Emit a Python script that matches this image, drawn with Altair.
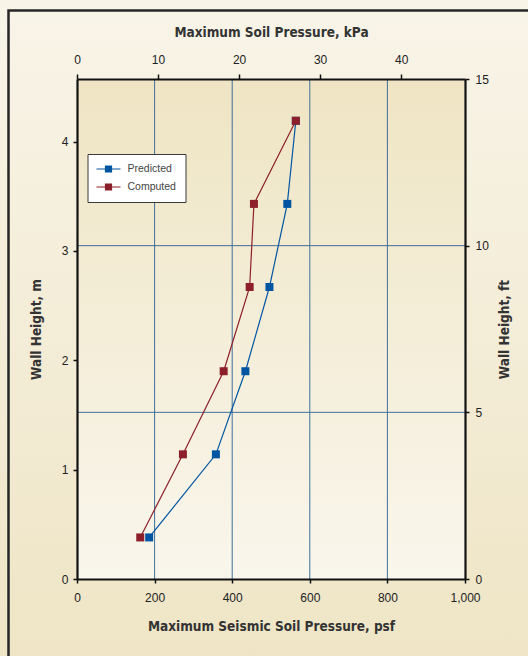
import altair as alt
import pandas as pd

# Wall heights of the readings (m)
heights_m = [0.38, 1.14, 1.90, 2.67, 3.43, 4.19]
# Maximum seismic soil pressure at each height (psf)
predicted_psf = [186, 358, 434, 496, 542, 564]
computed_psf = [163, 273, 378, 445, 456, 564]
series_names = ["Predicted", "Computed"]
series_colors = ["#0055a2", "#8c1f2a"]

# Axis ticks and grid positions
psf_ticks = [0, 200, 400, 600, 800, 1000]
psf_grid = [200, 400, 600, 800]
m_ticks = [0, 1, 2, 3, 4]
kpa_ticks = [0, 10, 20, 30, 40]
ft_ticks = [0, 5, 10, 15]
ft_grid = [5, 10]

psf_domain = [0, 1000]
kpa_domain = [0, 47.88]   # same span as 1,000 psf
m_domain = [0, 4.572]     # same span as 15 ft
ft_domain = [0, 15]

W, H = 388, 500
PAD = {"left": 77, "top": 79, "right": 63, "bottom": 77}

TITLE_FONT = "'DejaVu Sans Condensed', 'Arial Narrow', sans-serif"
LABEL_FONT = "'Liberation Sans', Arial, Helvetica, sans-serif"
GRID = "#3f6f9a"
INK = "#111111"

series_frames = [
    pd.DataFrame({"series": name, "psf": vals, "m": heights_m})
    for name, vals in zip(series_names, [predicted_psf, computed_psf])
]
pts = pd.concat(series_frames, ignore_index=True)


def axis(orient, values, title, tick_size, label_pad, title_pad, **extra):
    return alt.Axis(
        orient=orient, values=values, title=title, grid=False, zindex=1,
        tickCount=len(values), domainColor=INK, domainWidth=2.2, tickColor=INK,
        tickWidth=1.5, tickSize=tick_size, labelFont=LABEL_FONT, labelFontSize=12,
        labelColor="#222222", labelPadding=label_pad, labelFlush=False,
        labelOverlap=False, titleFont=TITLE_FONT, titleFontSize=13.5,
        titleFontWeight="bold", titleColor="#333333", titlePadding=title_pad,
        **extra,
    )


def vgrad(top, bottom):
    return alt.LinearGradient(
        gradient="linear", x1=0, x2=0, y1=0, y2=1,
        stops=[alt.GradientStop(offset=0, color=top),
               alt.GradientStop(offset=1, color=bottom)],
    )


def lin(domain):
    return alt.Scale(domain=domain, nice=False, zero=False)


one = alt.Data(values=[{}])

# page background and outer frame
page_bg = alt.Chart(one).mark_rect(fill=vgrad("#f8f4e8", "#efe5c6")).encode(
    x=alt.value(-PAD["left"]), x2=alt.value(W + PAD["right"]),
    y=alt.value(-PAD["top"]), y2=alt.value(H + PAD["bottom"]),
)
frame = alt.Chart(one).mark_rect(fill="transparent", stroke="#262626", strokeWidth=2.5).encode(
    x=alt.value(-68.5), x2=alt.value(W + 200),
    y=alt.value(-68.5), y2=alt.value(H + 200),
)
plot_bg = alt.Chart(one).mark_rect(fill=vgrad("#efe5c4", "#f9f6ec")).encode(
    x=alt.value(0), x2=alt.value(W), y=alt.value(0), y2=alt.value(H),
)

color_scale = alt.Scale(domain=series_names, range=series_colors)

# vertical grid at psf steps, horizontal grid at ft steps
psf_rules = alt.Chart(pd.DataFrame({"psf": psf_grid})).mark_rule(
    color=GRID, strokeWidth=1
).encode(x=alt.X("psf:Q", scale=lin(psf_domain), axis=None))

ft_rules = alt.Chart(pd.DataFrame({"ft": ft_grid})).mark_rule(
    color=GRID, strokeWidth=1
).encode(
    y=alt.Y("ft:Q", scale=lin(ft_domain),
            axis=axis("right", ft_ticks, "Wall Height, ft", 4, 6, 9,
                      titleAngle=270, titleBaseline="top")),
    x=alt.value(0), x2=alt.value(W),
)

kpa_axis = alt.Chart(pd.DataFrame({"kpa": kpa_ticks})).mark_rule(opacity=0).encode(
    x=alt.X("kpa:Q", scale=lin(kpa_domain),
            axis=axis("top", kpa_ticks, "Maximum Soil Pressure, kPa", 5, 8, 14)),
)

# one connecting line per series; the first one carries the psf / m axes
line_layers = []
for i, (df, col) in enumerate(zip(series_frames, series_colors)):
    if i == 0:
        x_axis = axis("bottom", psf_ticks, "Maximum Seismic Soil Pressure, psf", 4, 9, 16)
        y_axis = axis("left", m_ticks, "Wall Height, m", 4, 5, 18)
    else:
        x_axis = None
        y_axis = None
    line_layers.append(
        alt.Chart(df).mark_line(strokeWidth=1.2, color=col).encode(
            x=alt.X("psf:Q", scale=lin(psf_domain), axis=x_axis),
            y=alt.Y("m:Q", scale=lin(m_domain), axis=y_axis),
            order=alt.Order("m:Q"),
        )
    )

SYMBOL = "M-2,-0.1H2V0.1H-2Z M-0.6,-0.6H0.6V0.6H-0.6Z"
legend = alt.Legend(
    title=None, orient="none", legendX=10.5, legendY=75, direction="vertical",
    fillColor="white", strokeColor="#3a3a3a", padding=9, cornerRadius=0,
    symbolType=SYMBOL, symbolSize=144, symbolOffset=6, symbolStrokeWidth=0,
    symbolOpacity=1, labelFont=LABEL_FONT, labelFontSize=10.5, labelColor="#444444",
    labelOffset=13, rowPadding=6, zindex=1,
)

points = alt.Chart(pts).mark_point(shape="square", filled=True, size=64, opacity=1).encode(
    x=alt.X("psf:Q", scale=lin(psf_domain), axis=None),
    y=alt.Y("m:Q", scale=lin(m_domain), axis=None),
    color=alt.Color("series:N", scale=color_scale, legend=legend),
)

chart = alt.layer(
    page_bg, frame, plot_bg, psf_rules, ft_rules, kpa_axis, *line_layers, points
).resolve_scale(
    x="independent", y="independent"
).properties(
    width=W, height=H, padding=PAD,
    autosize=alt.AutoSizeParams(type="none"),
).configure(background="#f3ecd6").configure_view(strokeWidth=0)

chart.save("out.html", embed_options={"renderer": "svg", "actions": False})
